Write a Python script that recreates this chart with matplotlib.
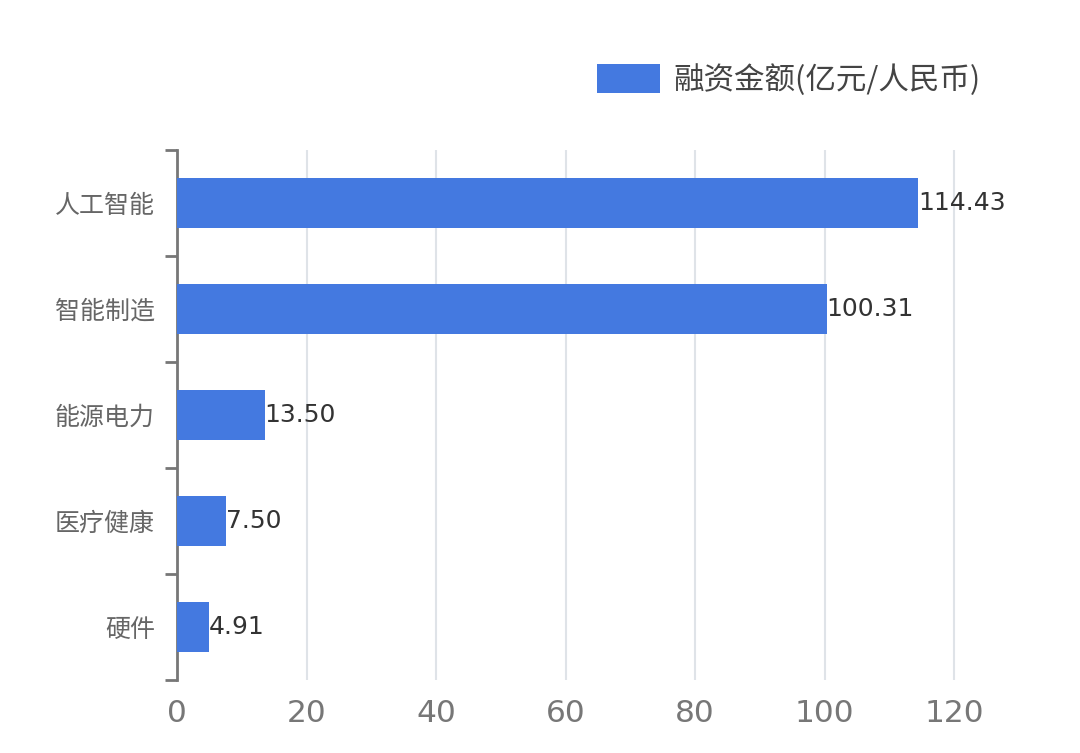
import matplotlib
matplotlib.use("Agg")
import matplotlib.pyplot as plt
from matplotlib.patches import FancyBboxPatch
from matplotlib.legend_handler import HandlerPatch

plt.rcParams['font.family'] = ['Noto Sans CJK SC', 'DejaVu Sans']

# data
categories = ["人工智能", "智能制造", "能源电力", "医疗健康", "硬件"]
amounts = [114.43, 100.31, 13.50, 7.50, 4.91]
series_name = "融资金额(亿元/人民币)"
x_ticks = [0, 20, 40, 60, 80, 100, 120]

bar_color = "#4479E0"


# rounded legend swatch
def rounded_patch(legend, orig_handle, xdescent, ydescent, width, height, fontsize):
    return FancyBboxPatch((-xdescent, -ydescent), width, height,
                          boxstyle="round,pad=0,rounding_size=7", mutation_aspect=1)


fig = plt.figure(figsize=(10.8, 7.53), dpi=100)
ax = fig.add_axes([0.164, 0.097, 0.762, 0.704])

pos = list(range(len(categories)))
bars = ax.barh(pos, amounts, height=0.47, color=bar_color, label=series_name, zorder=3)
ax.set_ylim(len(categories) - 0.5, -0.5)
ax.set_xlim(0, 127.1)

# value labels
for y, v in zip(pos, amounts):
    ax.text(v, y, f"{v:.2f}", va="center", ha="left", fontsize=18,
            color="#333333", family="DejaVu Sans", zorder=4)

# grid
ax.set_xticks(x_ticks)
ax.xaxis.grid(True, color="#dfe3e8", linewidth=1.5, zorder=0)
ax.tick_params(axis="x", length=0, pad=14, labelsize=22.5, labelcolor="#777777")
for lab in ax.get_xticklabels():
    lab.set_family("DejaVu Sans")

# y axis: labels centred in bands, ticks at band boundaries
ax.set_yticks(pos)
ax.set_yticklabels(categories)
ax.tick_params(axis="y", which="major", length=0, pad=16, labelsize=18, labelcolor="#666666")
ax.set_yticks([p - 0.5 for p in pos] + [pos[-1] + 0.5], minor=True)
ax.tick_params(axis="y", which="minor", length=8.5, width=2, color="#777777")

for s in ["top", "right", "bottom"]:
    ax.spines[s].set_visible(False)
ax.spines["left"].set_color("#777777")
ax.spines["left"].set_linewidth(2)

leg = fig.legend(handles=[bars], labels=[series_name], loc="center",
                 bbox_to_anchor=(0.7306, 0.894), frameon=False, fontsize=22,
                 handlelength=2.05, handleheight=1.1, handletextpad=0.45,
                 handler_map={type(bars.patches[0]): HandlerPatch(patch_func=rounded_patch)})
for t in leg.get_texts():
    t.set_color("#444444")

fig.savefig("out.png", dpi=100, facecolor="white")
